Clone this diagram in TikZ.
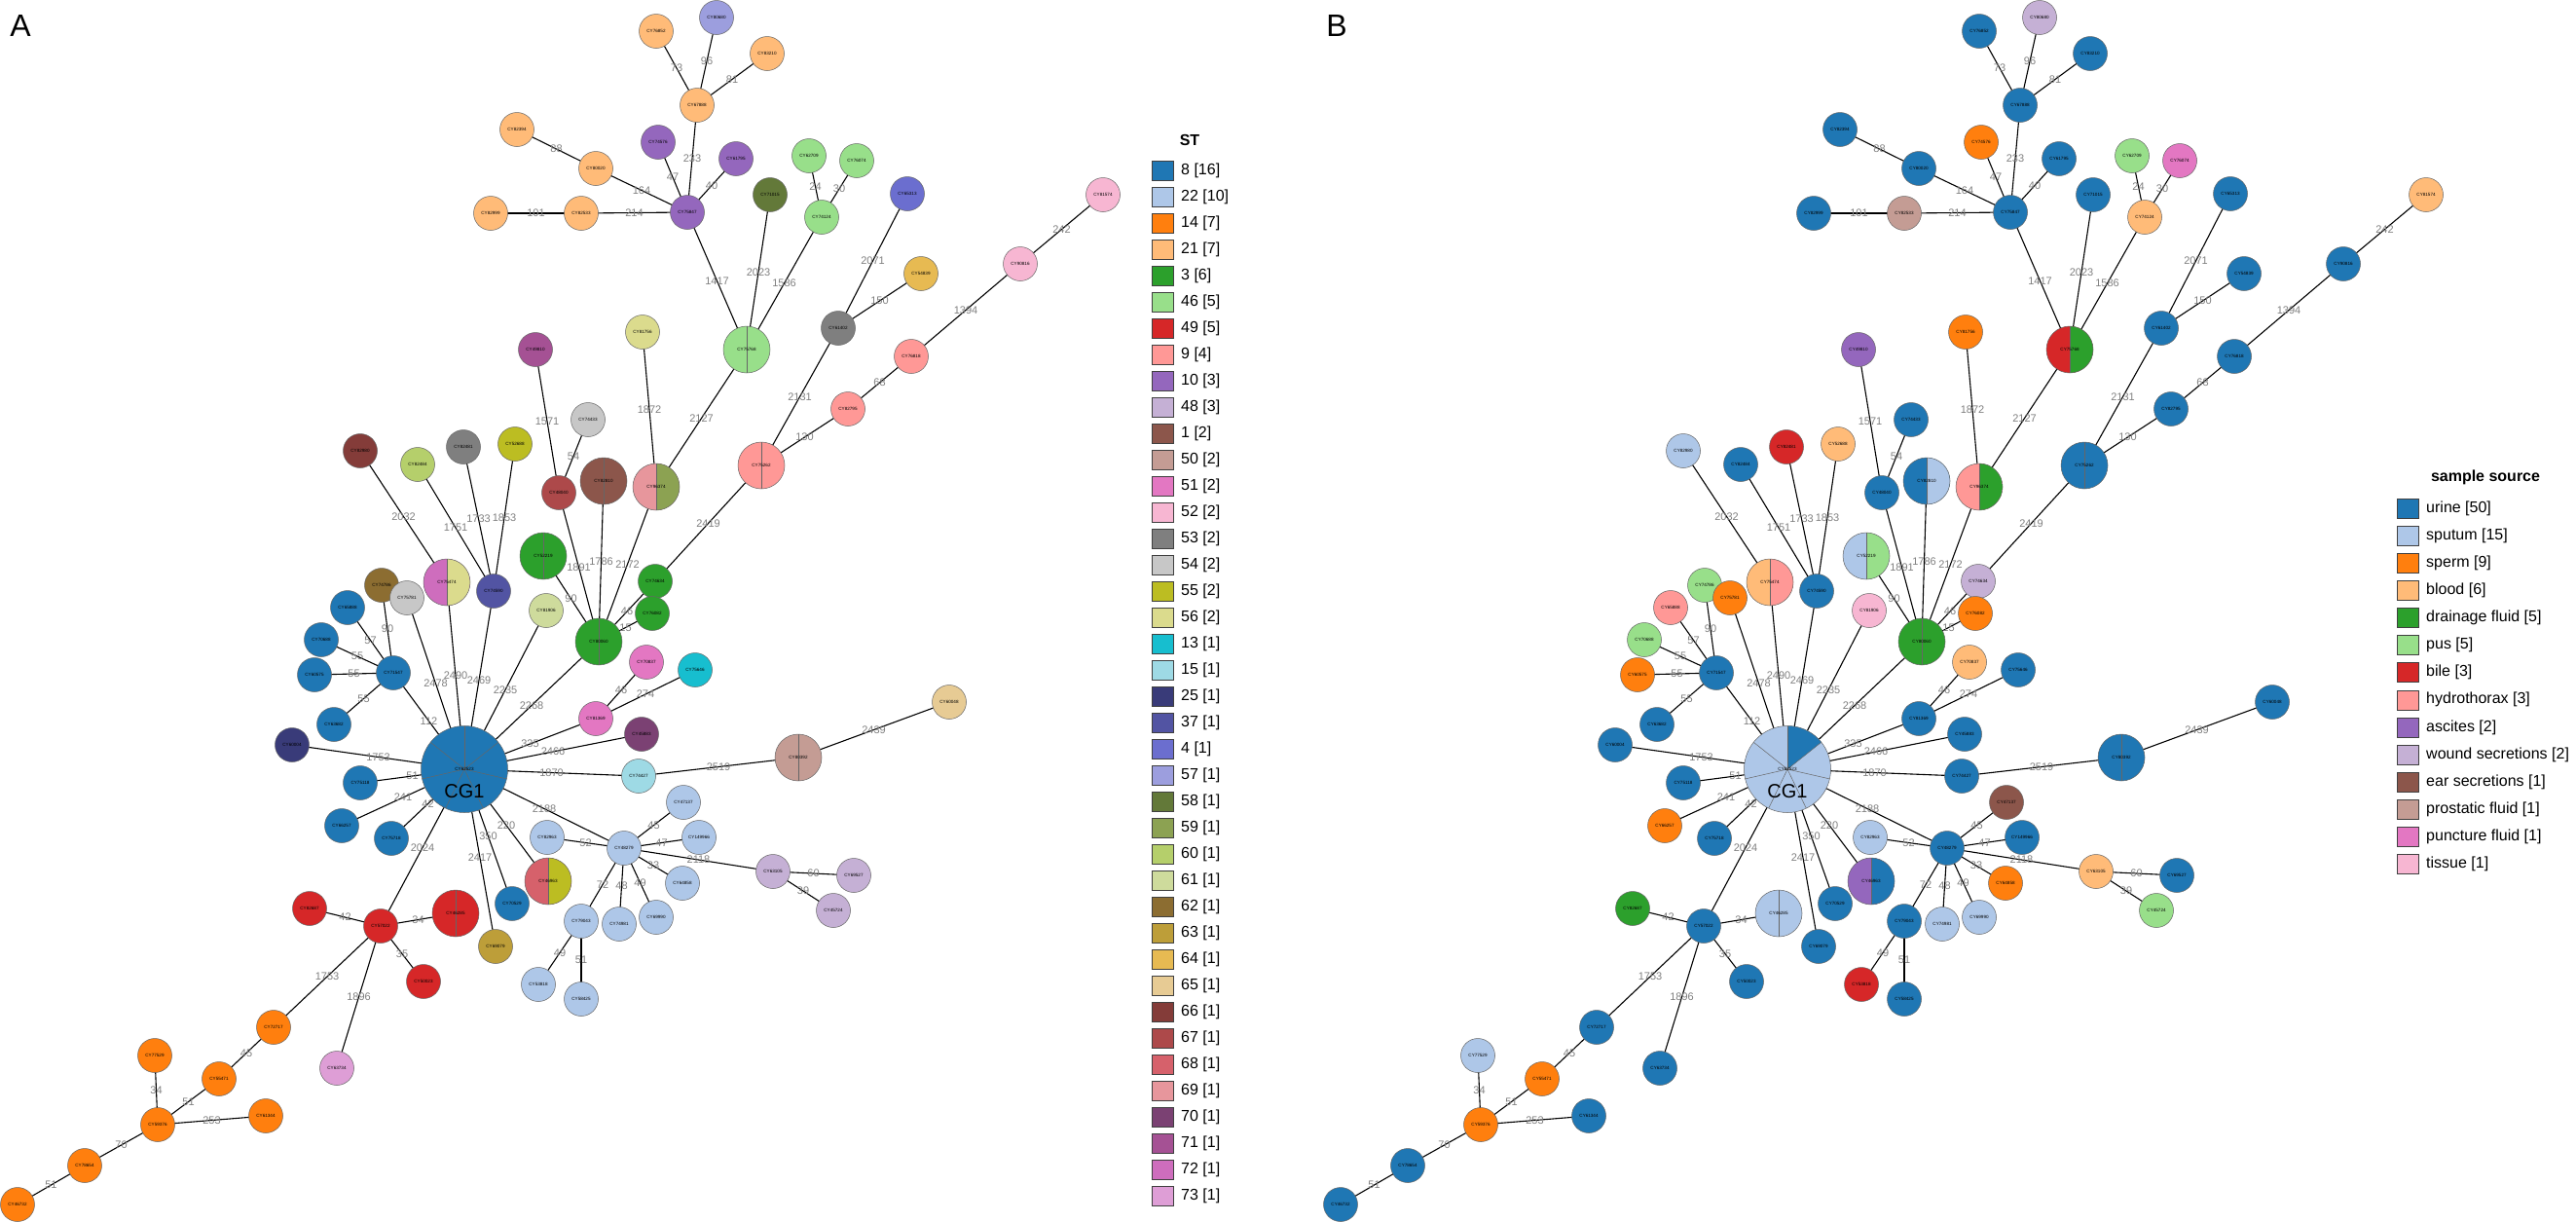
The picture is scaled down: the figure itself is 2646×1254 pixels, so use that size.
\documentclass[tikz,border=0pt]{standalone}
\usepackage{fontspec}
\setmainfont{Liberation Sans}
\pgfdeclarelayer{paper}
\pgfdeclarelayer{edges}
\pgfsetlayers{paper,edges,main}
\definecolor{c8}{HTML}{1F77B4}\definecolor{c22}{HTML}{AEC7E8}\definecolor{c14}{HTML}{FF7F0E}
\definecolor{c21}{HTML}{FFBB78}\definecolor{c3}{HTML}{2CA02C}\definecolor{c46}{HTML}{98DF8A}
\definecolor{c49}{HTML}{D62728}\definecolor{c9}{HTML}{FF9896}\definecolor{c10}{HTML}{9467BD}
\definecolor{c48}{HTML}{C5B0D5}\definecolor{c1}{HTML}{8C564B}\definecolor{c50}{HTML}{C49C94}
\definecolor{c51}{HTML}{E377C2}\definecolor{c52}{HTML}{F7B6D2}\definecolor{c53}{HTML}{7F7F7F}
\definecolor{c54}{HTML}{C7C7C7}\definecolor{c55}{HTML}{BCBD22}\definecolor{c56}{HTML}{DBDB8D}
\definecolor{c13}{HTML}{17BECF}\definecolor{c15}{HTML}{9EDAE5}\definecolor{c25}{HTML}{393B79}
\definecolor{c37}{HTML}{5254A3}\definecolor{c4}{HTML}{6B6ECF}\definecolor{c57}{HTML}{9C9EDE}
\definecolor{c58}{HTML}{637939}\definecolor{c59}{HTML}{8CA252}\definecolor{c60}{HTML}{B5CF6B}
\definecolor{c61}{HTML}{CEDB9C}\definecolor{c62}{HTML}{8C6D31}\definecolor{c63}{HTML}{BD9E39}
\definecolor{c64}{HTML}{E7BA52}\definecolor{c65}{HTML}{E7CB94}\definecolor{c66}{HTML}{843C39}
\definecolor{c67}{HTML}{AD494A}\definecolor{c68}{HTML}{D6616B}\definecolor{c69}{HTML}{E7969C}
\definecolor{c70}{HTML}{7B4173}\definecolor{c71}{HTML}{A55194}\definecolor{c72}{HTML}{CE6DBD}
\definecolor{c73}{HTML}{DE9ED6}
\tikzset{
  nd/.style={circle, draw=black!60, line width=0.5pt, inner sep=0pt, minimum size=35pt,
    font=\fontsize{4.6}{5}\selectfont, text=black},
  twom/.style={minimum size=48pt},
  spl/.style={path picture={\draw[black!60,line width=0.5pt] (path picture bounding box.north) -- (path picture bounding box.south);}},
  hf/.style={path picture={\fill[#1] (path picture bounding box.north) rectangle (path picture bounding box.south east);
     \draw[black!60,line width=0.5pt] (path picture bounding box.north) -- (path picture bounding box.south);}},
  cglines/.style={path picture={\foreach \a in {90,38.57,-12.86,-64.29,-115.71,-167.14,141.43}
     \draw[black!60,line width=0.5pt] (path picture bounding box.center) -- ++(\a:50pt);}},
  cgA/.style={fill=c8, cglines},
  cgB/.style={fill=c22, path picture={\fill[c8] (path picture bounding box.center) -- ++(90:50pt) arc[start angle=90,end angle=38.57,radius=50pt] -- cycle;
     \foreach \a in {90,38.57,-12.86,-64.29,-115.71,-167.14,141.43}
     \draw[black!60,line width=0.5pt] (path picture bounding box.center) -- ++(\a:50pt);}},
  edg/.style={draw=black, line width=1.1pt},
  elab/.style={font=\fontsize{11}{12}\selectfont, text=black!50, inner sep=0pt},
  sw/.style={draw=black!75, line width=0.6pt, minimum width=22pt, minimum height=20pt, inner sep=0pt},
  lgx/.style={anchor=west, font=\fontsize{16}{18}\selectfont, inner sep=0pt},
  lgh/.style={font=\bfseries\fontsize{16}{18}\selectfont, inner sep=0pt},
  pnl/.style={font=\fontsize{32}{32}\selectfont, inner sep=0pt}
}
\newcommand\ed[4]{\draw[edg] (#1#2.center) -- node[elab]{#4} (#1#3.center);}
\newcommand\mstnodes[1]{%
\node[nd,k1] (#1n1) at (674,32) {CY76852};
\node[nd,k2] (#1n2) at (736,18) {CY80680};
\node[nd,k3] (#1n3) at (788,55) {CY83210};
\node[nd,k4] (#1n4) at (716,108) {CY67888};
\node[nd,k5] (#1n5) at (531,133) {CY82394};
\node[nd,k6] (#1n6) at (612,173) {CY80020};
\node[nd,k7] (#1n7) at (676,146) {CY74576};
\node[nd,k8] (#1n8) at (756,163) {CY61795};
\node[nd,k9] (#1n9) at (706,218) {CY75847};
\node[nd,k10] (#1n10) at (504,219) {CY82999};
\node[nd,k11] (#1n11) at (597,219) {CY82533};
\node[nd,k12] (#1n12) at (791,200) {CY71015};
\node[nd,k13] (#1n13) at (831,160) {CY62709};
\node[nd,k14] (#1n14) at (880,165) {CY76074};
\node[nd,k15] (#1n15) at (844,223) {CY74124};
\node[nd,k16] (#1n16) at (932,199) {CY65313};
\node[nd,k17] (#1n17) at (1133,200) {CY81574};
\node[nd,k18] (#1n18) at (1048,271) {CY90816};
\node[nd,k19] (#1n19) at (946,281) {CY54839};
\node[nd,k20] (#1n20) at (861,337) {CY61402};
\node[nd,twom,k21] (#1n21) at (767,359) {CY75768};
\node[nd,k22] (#1n22) at (936,366) {CY76818};
\node[nd,k23] (#1n23) at (871,420) {CY82795};
\node[nd,twom,k24] (#1n24) at (782,478) {CY75262};
\node[nd,k25] (#1n25) at (550,359) {CY49810};
\node[nd,k26] (#1n26) at (660,341) {CY81756};
\node[nd,k27] (#1n27) at (604,431) {CY74433};
\node[nd,k28] (#1n28) at (370,463) {CY82980};
\node[nd,k29] (#1n29) at (429,477) {CY82484};
\node[nd,k30] (#1n30) at (476,459) {CY82481};
\node[nd,k31] (#1n31) at (529,456) {CY52688};
\node[nd,k32] (#1n32) at (574,506) {CY48040};
\node[nd,twom,k33] (#1n33) at (620,494) {CY82810};
\node[nd,twom,k34] (#1n34) at (674,500) {CY96374};
\node[nd,twom,k35] (#1n35) at (558,571) {CY52219};
\node[nd,twom,k36] (#1n36) at (459,598) {CY75474};
\node[nd,k37] (#1n37) at (507,607) {CY74590};
\node[nd,k38] (#1n38) at (392,601) {CY74786};
\node[nd,k39] (#1n39) at (418,614) {CY75781};
\node[nd,k40] (#1n40) at (561,627) {CY81906};
\node[nd,k41] (#1n41) at (673,597) {CY74634};
\node[nd,k42] (#1n42) at (670,630) {CY76082};
\node[nd,twom,k43] (#1n43) at (615,659) {CY80060};
\node[nd,k44] (#1n44) at (357,624) {CY65888};
\node[nd,k45] (#1n45) at (330,657) {CY70688};
\node[nd,k46] (#1n46) at (323,693) {CY60575};
\node[nd,k47] (#1n47) at (404,691) {CY71547};
\node[nd,k48] (#1n48) at (343,744) {CY63682};
\node[nd,k49] (#1n49) at (664,680) {CY70837};
\node[nd,k50] (#1n50) at (714,688) {CY75646};
\node[nd,k51] (#1n51) at (612,738) {CY81369};
\node[nd,k52] (#1n52) at (659,754) {CY45883};
\node[nd,k53] (#1n53) at (300,765) {CY60004};
\node[nd,kcg,minimum size=89pt] (#1cg) at (477,790) {CY62523};
\node[font=\fontsize{20}{20}\selectfont, inner sep=0pt] (#1cgt) at (477,813) {CG1};
\node[nd,k55] (#1n55) at (370,804) {CY75118};
\node[nd,k56] (#1n56) at (656,797) {CY74427};
\node[nd,twom,k57] (#1n57) at (820,778) {CY80392};
\node[nd,k58] (#1n58) at (975,721) {CY60048};
\node[nd,k59] (#1n59) at (702,824) {CY47137};
\node[nd,k60] (#1n60) at (351,848) {CY66257};
\node[nd,k61] (#1n61) at (402,861) {CY75718};
\node[nd,k62] (#1n62) at (562,860) {CY82963};
\node[nd,k63] (#1n63) at (641,871) {CY48279};
\node[nd,k64] (#1n64) at (718,860) {CY149966};
\node[nd,k65] (#1n65) at (794,895) {CY63105};
\node[nd,k66] (#1n66) at (877,899) {CY69527};
\node[nd,k67] (#1n67) at (856,935) {CY45724};
\node[nd,twom,k68] (#1n68) at (563,905) {CY46963};
\node[nd,k69] (#1n69) at (701,907) {CY64858};
\node[nd,k70] (#1n70) at (674,942) {CY69990};
\node[nd,k71] (#1n71) at (636,949) {CY74981};
\node[nd,k72] (#1n72) at (597,946) {CY79043};
\node[nd,k73] (#1n73) at (553,1011) {CY53818};
\node[nd,k74] (#1n74) at (597,1026) {CY58425};
\node[nd,k75] (#1n75) at (526,928) {CY70529};
\node[nd,k76] (#1n76) at (509,972) {CY69079};
\node[nd,k77] (#1n77) at (318,933) {CY82687};
\node[nd,k78] (#1n78) at (391,951) {CY57022};
\node[nd,twom,k79] (#1n79) at (468,938) {CY46285};
\node[nd,k80] (#1n80) at (435,1008) {CY50023};
\node[nd,k81] (#1n81) at (281,1055) {CY72717};
\node[nd,k82] (#1n82) at (346,1097) {CY63734};
\node[nd,k83] (#1n83) at (159,1084) {CY77529};
\node[nd,k84] (#1n84) at (225,1108) {CY55471};
\node[nd,k85] (#1n85) at (162,1155) {CY59376};
\node[nd,k86] (#1n86) at (273,1146) {CY61344};
\node[nd,k87] (#1n87) at (87,1197) {CY78654};
\node[nd,k88] (#1n88) at (18,1237) {CY46732};
}
\newcommand\mstedges[1]{%
\ed{#1}{n1}{n4}{73}\ed{#1}{n2}{n4}{96}\ed{#1}{n3}{n4}{81}\ed{#1}{n4}{n9}{233}
\ed{#1}{n5}{n6}{88}\ed{#1}{n6}{n9}{164}\ed{#1}{n7}{n9}{47}\ed{#1}{n8}{n9}{40}
\ed{#1}{n10}{n11}{101}\ed{#1}{n11}{n9}{214}\ed{#1}{n9}{n21}{1417}\ed{#1}{n12}{n21}{2023}
\ed{#1}{n13}{n15}{24}\ed{#1}{n14}{n15}{30}\ed{#1}{n15}{n21}{1586}
\ed{#1}{n16}{n20}{2071}\ed{#1}{n19}{n20}{150}\ed{#1}{n20}{n24}{2131}
\ed{#1}{n17}{n18}{242}\ed{#1}{n18}{n22}{1394}\ed{#1}{n22}{n23}{68}\ed{#1}{n23}{n24}{130}
\ed{#1}{n21}{n34}{2127}\ed{#1}{n24}{n41}{2419}\ed{#1}{n26}{n34}{1872}\ed{#1}{n34}{n43}{2172}
\ed{#1}{n25}{n32}{1571}\ed{#1}{n27}{n32}{54}\ed{#1}{n32}{n43}{1891}\ed{#1}{n33}{n43}{1786}
\ed{#1}{n35}{n43}{90}\ed{#1}{n41}{n43}{46}\ed{#1}{n42}{n43}{15}\ed{#1}{n43}{cg}{2268}
\ed{#1}{n28}{n36}{2032}\ed{#1}{n29}{n37}{1751}\ed{#1}{n30}{n37}{1733}\ed{#1}{n31}{n37}{1853}
\ed{#1}{n39}{cg}{2478}\ed{#1}{n36}{cg}{2490}\ed{#1}{n37}{cg}{2469}\ed{#1}{n40}{cg}{2235}
\ed{#1}{n38}{n47}{90}\ed{#1}{n44}{n47}{57}\ed{#1}{n45}{n47}{55}\ed{#1}{n46}{n47}{55}
\ed{#1}{n48}{n47}{55}\ed{#1}{n47}{cg}{112}
\ed{#1}{n53}{cg}{1753}\ed{#1}{n55}{cg}{51}\ed{#1}{n60}{cg}{241}\ed{#1}{n61}{cg}{42}
\ed{#1}{n51}{cg}{335}\ed{#1}{n49}{n51}{46}\ed{#1}{n50}{n51}{274}\ed{#1}{n52}{cg}{2466}
\ed{#1}{n56}{cg}{1870}\ed{#1}{n56}{n57}{2519}\ed{#1}{n57}{n58}{2439}
\ed{#1}{cg}{n63}{2188}\ed{#1}{n62}{n63}{52}\ed{#1}{n59}{n63}{45}\ed{#1}{n64}{n63}{47}
\ed{#1}{n63}{n65}{2118}\ed{#1}{n65}{n66}{60}\ed{#1}{n65}{n67}{39}\ed{#1}{n69}{n63}{33}
\ed{#1}{n70}{n63}{49}\ed{#1}{n71}{n63}{48}\ed{#1}{n72}{n63}{72}\ed{#1}{n72}{n73}{49}
\ed{#1}{n72}{n74}{51}
\ed{#1}{cg}{n68}{220}\ed{#1}{cg}{n75}{350}\ed{#1}{cg}{n76}{2417}\ed{#1}{cg}{n78}{2024}
\ed{#1}{n77}{n78}{42}\ed{#1}{n79}{n78}{34}\ed{#1}{n80}{n78}{35}\ed{#1}{n78}{n81}{1753}
\ed{#1}{n78}{n82}{1896}\ed{#1}{n81}{n84}{45}\ed{#1}{n84}{n85}{51}\ed{#1}{n83}{n85}{34}
\ed{#1}{n85}{n86}{253}\ed{#1}{n85}{n87}{70}\ed{#1}{n87}{n88}{51}
}
\begin{document}
\begin{tikzpicture}[x=1pt,y=-1pt]
\begin{pgfonlayer}{paper}
\fill[white] (0,0) rectangle (2646,1254);
\end{pgfonlayer}
\useasboundingbox (0,0) rectangle (2646,1254);
\node[pnl] (pA) at (21,26) {A};
\node[pnl] (pB) at (1373,26) {B};
% ---------- panel A ----------
\begin{scope}
\tikzset{k1/.style={fill=c21},k2/.style={fill=c57},k3/.style={fill=c21},k4/.style={fill=c21},
k5/.style={fill=c21},k6/.style={fill=c21},k7/.style={fill=c10},k8/.style={fill=c10},k9/.style={fill=c10},
k10/.style={fill=c21},k11/.style={fill=c21},k12/.style={fill=c58},k13/.style={fill=c46},k14/.style={fill=c46},
k15/.style={fill=c46},k16/.style={fill=c4},k17/.style={fill=c52},k18/.style={fill=c52},k19/.style={fill=c64},
k20/.style={fill=c53},k21/.style={fill=c46,spl},k22/.style={fill=c9},k23/.style={fill=c9},k24/.style={fill=c9,spl},
k25/.style={fill=c71},k26/.style={fill=c56},k27/.style={fill=c54},k28/.style={fill=c66},k29/.style={fill=c60},
k30/.style={fill=c53},k31/.style={fill=c55},k32/.style={fill=c67},k33/.style={fill=c1,spl},k34/.style={fill=c69,hf=c59},
k35/.style={fill=c3,spl},k36/.style={fill=c72,hf=c56},k37/.style={fill=c37},k38/.style={fill=c62},k39/.style={fill=c54},
k40/.style={fill=c61},k41/.style={fill=c3},k42/.style={fill=c3},k43/.style={fill=c3,spl},k44/.style={fill=c8},
k45/.style={fill=c8},k46/.style={fill=c8},k47/.style={fill=c8},k48/.style={fill=c8},k49/.style={fill=c51},
k50/.style={fill=c13},k51/.style={fill=c51},k52/.style={fill=c70},k53/.style={fill=c25},kcg/.style={cgA},
k55/.style={fill=c8},k56/.style={fill=c15},k57/.style={fill=c50,spl},k58/.style={fill=c65},k59/.style={fill=c22},
k60/.style={fill=c8},k61/.style={fill=c8},k62/.style={fill=c22},k63/.style={fill=c22},k64/.style={fill=c22},
k65/.style={fill=c48},k66/.style={fill=c48},k67/.style={fill=c48},k68/.style={fill=c68,hf=c55},k69/.style={fill=c22},
k70/.style={fill=c22},k71/.style={fill=c22},k72/.style={fill=c22},k73/.style={fill=c22},k74/.style={fill=c22},
k75/.style={fill=c8},k76/.style={fill=c63},k77/.style={fill=c49},k78/.style={fill=c49},k79/.style={fill=c49,spl},
k80/.style={fill=c49},k81/.style={fill=c14},k82/.style={fill=c73},k83/.style={fill=c14},k84/.style={fill=c14},
k85/.style={fill=c14},k86/.style={fill=c14},k87/.style={fill=c14},k88/.style={fill=c14}}
\mstnodes{A}
\begin{pgfonlayer}{edges}\mstedges{A}\end{pgfonlayer}
\end{scope}
% ---------- panel B ----------
\begin{scope}[xshift=1359pt]
\tikzset{k1/.style={fill=c8},k2/.style={fill=c48},k3/.style={fill=c8},k4/.style={fill=c8},
k5/.style={fill=c8},k6/.style={fill=c8},k7/.style={fill=c14},k8/.style={fill=c8},k9/.style={fill=c8},
k10/.style={fill=c8},k11/.style={fill=c50},k12/.style={fill=c8},k13/.style={fill=c46},k14/.style={fill=c51},
k15/.style={fill=c21},k16/.style={fill=c8},k17/.style={fill=c21},k18/.style={fill=c8},k19/.style={fill=c8},
k20/.style={fill=c8},k21/.style={fill=c49,hf=c3},k22/.style={fill=c8},k23/.style={fill=c8},k24/.style={fill=c8,spl},
k25/.style={fill=c10},k26/.style={fill=c14},k27/.style={fill=c8},k28/.style={fill=c22},k29/.style={fill=c8},
k30/.style={fill=c49},k31/.style={fill=c21},k32/.style={fill=c8},k33/.style={fill=c8,hf=c22},k34/.style={fill=c9,hf=c3},
k35/.style={fill=c22,hf=c46},k36/.style={fill=c21,hf=c9},k37/.style={fill=c8},k38/.style={fill=c46},k39/.style={fill=c14},
k40/.style={fill=c52},k41/.style={fill=c48},k42/.style={fill=c14},k43/.style={fill=c3,spl},k44/.style={fill=c9},
k45/.style={fill=c46},k46/.style={fill=c14},k47/.style={fill=c8},k48/.style={fill=c8},k49/.style={fill=c21},
k50/.style={fill=c8},k51/.style={fill=c8},k52/.style={fill=c8},k53/.style={fill=c8},kcg/.style={cgB},
k55/.style={fill=c8},k56/.style={fill=c8},k57/.style={fill=c8,spl},k58/.style={fill=c8},k59/.style={fill=c1},
k60/.style={fill=c14},k61/.style={fill=c8},k62/.style={fill=c22},k63/.style={fill=c8},k64/.style={fill=c8},
k65/.style={fill=c21},k66/.style={fill=c8},k67/.style={fill=c46},k68/.style={fill=c10,hf=c8},k69/.style={fill=c14},
k70/.style={fill=c22},k71/.style={fill=c22},k72/.style={fill=c8},k73/.style={fill=c49},k74/.style={fill=c8},
k75/.style={fill=c8},k76/.style={fill=c8},k77/.style={fill=c3},k78/.style={fill=c8},k79/.style={fill=c22,spl},
k80/.style={fill=c8},k81/.style={fill=c8},k82/.style={fill=c8},k83/.style={fill=c22},k84/.style={fill=c14},
k85/.style={fill=c14},k86/.style={fill=c8},k87/.style={fill=c8},k88/.style={fill=c8}}
\mstnodes{B}
\begin{pgfonlayer}{edges}\mstedges{B}\end{pgfonlayer}
\end{scope}
% ---------- legend A ----------
\node[lgh] (lgAh) at (1222,144) {ST};
\foreach \c/\n [count=\i] in {8/16,22/10,14/7,21/7,3/6,46/5,49/5,9/4,10/3,48/3,1/2,50/2,51/2,52/2,53/2,54/2,55/2,56/2,
13/1,15/1,25/1,37/1,4/1,57/1,58/1,59/1,60/1,61/1,62/1,63/1,64/1,65/1,66/1,67/1,68/1,69/1,70/1,71/1,72/1,73/1}{
  \node[sw, fill=c\c] (lgA\i) at (1194,148+27*\i) {};
  \node[lgx] (lgAt\i) at (1213,148+27*\i) {\c\ [\n]};
}
% ---------- legend B ----------
\node[lgh] (lgBh) at (2553,490) {sample source};
\foreach \c/\t/\n [count=\i] in {c8/urine/50,c22/sputum/15,c14/sperm/9,c21/blood/6,c3/drainage fluid/5,c46/pus/5,
c49/bile/3,c9/hydrothorax/3,c10/ascites/2,c48/wound secretions/2,c1/ear secretions/1,c50/prostatic fluid/1,
c51/puncture fluid/1,c52/tissue/1}{
  \node[sw, fill=\c] (lgB\i) at (2473,494+28.1*\i) {};
  \node[lgx] (lgBt\i) at (2492,494+28.1*\i) {\t\ [\n]};
}
\end{tikzpicture}
\end{document}
